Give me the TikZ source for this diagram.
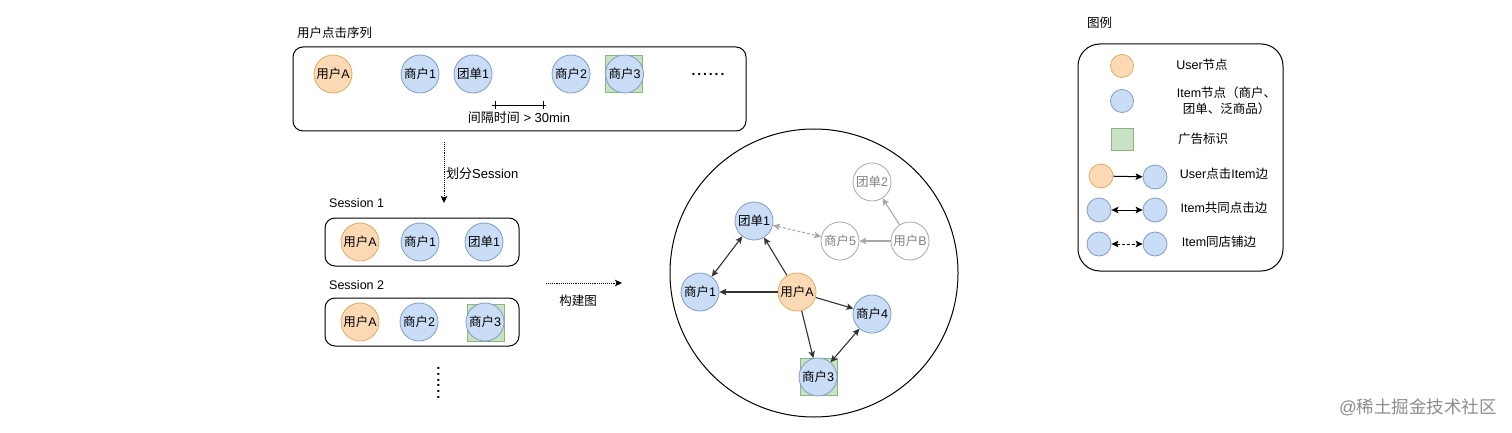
\documentclass[tikz,border=0pt]{standalone}
\usepackage{fontspec}
\usetikzlibrary{arrows.meta}
\setmainfont{Liberation Sans}
\newfontfamily\cjk{Noto Sans CJK SC}
\newcommand{\zh}[1]{{\cjk #1}}
\newcommand{\dotrow}{\textbf{.\kern1.9pt.\kern1.9pt.\kern1.9pt.\kern1.9pt.\kern1.9pt.}}
\definecolor{userfill}{HTML}{FAD9B4}
\definecolor{userline}{HTML}{DDAE62}
\definecolor{itemfill}{HTML}{CADDF6}
\definecolor{itemline}{HTML}{7F9CC4}
\definecolor{adfill}{HTML}{C9E1C5}
\definecolor{adline}{HTML}{8DB67F}
\definecolor{fadeline}{HTML}{A8A8A8}
\definecolor{fadetext}{HTML}{808080}
\tikzset{
  >={Stealth[length=7pt, width=6.5pt, inset=1.5pt]},
  txt/.style={inner sep=0pt, font=\fontsize{12.5}{15}\selectfont, align=center},
  bigtxt/.style={inner sep=0pt, font=\fontsize{13}{15}\selectfont, align=center},
  usernode/.style={circle, draw=userline, fill=userfill, thick, minimum size=38pt, inner sep=0pt, txt},
  itemnode/.style={circle, draw=itemline, fill=itemfill, thick, minimum size=38pt, inner sep=0pt, txt},
  fadenode/.style={circle, draw=fadeline, thick, minimum size=38pt, inner sep=0pt, txt, text=fadetext},
  adbox/.style={draw=adline, fill=adfill, thick, minimum size=37pt, inner sep=0pt},
  panel/.style={draw, rounded corners=10pt, line width=1pt, inner sep=0pt},
  edge/.style={line width=1.1pt, draw=black!80},
  fadeedge/.style={line width=1.1pt, draw=fadeline},
}
\begin{document}
\begin{tikzpicture}[x=1pt, y=-1pt]
\useasboundingbox (0,0) rectangle (1512,433);
%
\node [panel, minimum width=453pt, minimum height=84pt] at (519.5,89) (seqbox) {};
\node [panel, minimum width=194pt, minimum height=48pt] at (422,242) (ses1box) {};
\node [panel, minimum width=194pt, minimum height=48pt] at (422,322) (ses2box) {};
%
\node [txt, anchor=west] at (297,33) (seqtitle) {\zh{用户点击序列}};
\node [usernode] at (333,74) (sua) {\zh{用户}A};
\node [itemnode] at (420,74) (sm1) {\zh{商户}1};
\node [itemnode] at (473,74) (st1) {\zh{团单}1};
\node [itemnode] at (571,74) (sm2) {\zh{商户}2};
\node [adbox] at (624,74) (sad3) {};
\node [itemnode] at (624.5,74) (sm3) {\zh{商户}3};
\node [txt, font=\fontsize{14}{15}\selectfont] at (708,74) (sdots) {\dotrow};
\coordinate (gapa) at (495,105.5);
\coordinate (gapb) at (543,105.5);
\draw[line width=.9pt] ([xshift=-3pt]gapa)--([xshift=3pt]gapb);
\draw[line width=.9pt] (gapa)+(0,-4)--+(0,4);
\draw[line width=.9pt] (gapb)+(0,-4)--+(0,4);
\node [bigtxt] at (519,118) (gaptext) {\zh{间隔时间} > 30min};
%
\coordinate (splita) at (444,142);
\coordinate (splitb) at (444,203);
\draw[->, densely dotted, line width=.9pt] (splita)--(splitb);
\node [bigtxt, anchor=west] at (446,174) (splittext) {\zh{划分}Session};
%
\node [txt, anchor=west] at (329,203) (ses1title) {Session 1};
\node [usernode] at (360,242) (aua) {\zh{用户}A};
\node [itemnode] at (420,242) (am1) {\zh{商户}1};
\node [itemnode] at (484,242) (at1) {\zh{团单}1};
%
\node [txt, anchor=west] at (329,285) (ses2title) {Session 2};
\node [usernode] at (360,322) (bua) {\zh{用户}A};
\node [itemnode] at (419,322) (bm2) {\zh{商户}2};
\node [adbox] at (486,322.5) (bad3) {};
\node [itemnode] at (485,322) (bm3) {\zh{商户}3};
\node [txt, font=\fontsize{14}{15}\selectfont, rotate=-90] at (438.5,383) (vdots) {\dotrow};
%
\coordinate (builda) at (546,283);
\coordinate (buildb) at (622,283);
\draw[->, densely dotted, line width=.9pt] (builda)--(buildb);
\node [txt] at (578,301) (buildtext) {\zh{构建图}};
%
\node [circle, draw, line width=1pt, minimum size=288pt, inner sep=0pt] at (814,273) (bigcircle) {};
\node [itemnode] at (754,221) (t1) {\zh{团单}1};
\node [itemnode] at (700,292) (m1) {\zh{商户}1};
\node [usernode] at (797,292) (ua) {\zh{用户}A};
\node [itemnode] at (872,314) (m4) {\zh{商户}4};
\node [adbox] at (818.5,376.5) (ad3) {};
\node [itemnode] at (818,377) (m3) {\zh{商户}3};
\node [fadenode] at (872,182) (t2) {\zh{团单}2};
\node [fadenode] at (840,241) (m5) {\zh{商户}5};
\node [fadenode] at (910,241) (ub) {\zh{用户}B};
%
\draw[<-, edge] (t1)--(ua);
\draw[<-, edge] (m1)--(ua);
\draw[<-, edge] (m4)--(ua);
\draw[<-, edge] (m3)--(ua);
\draw[<->, edge] (t1)--(m1);
\draw[<->, edge] (m3)--(m4);
\draw[<-, fadeedge] (t2)--(ub);
\draw[<-, fadeedge] (m5)--(ub);
\draw[<->, fadeedge, densely dashed] (t1)--(m5);
%
\node [txt, anchor=west] at (1087,23) (legtitle) {\zh{图例}};
\node [panel, rounded corners=22pt, minimum width=205pt, minimum height=227pt] at (1180.5,157.5) (legbox) {};
\node [usernode, minimum size=23pt] at (1122,66) (luser) {};
\node [txt] at (1202,65) (lusertext) {User\zh{节点}};
\node [itemnode, minimum size=23pt] at (1122,101) (litem) {};
\node [txt] at (1226.5,101) (litemtext) {Item\zh{节点（商户、}\\[1pt]\zh{团单、泛商品）}};
\node [adbox, minimum size=22pt] at (1122.5,139) (lad) {};
\node [txt] at (1203,139) (ladtext) {\zh{广告标识}};
%
\node [usernode, minimum size=24pt] at (1101,176) (lua) {};
\node [itemnode, minimum size=24pt] at (1155,177) (lub) {};
\node [txt] at (1224,173.5) (lclick) {User\zh{点击}Item\zh{边}};
\node [itemnode, minimum size=24pt] at (1099,210) (lca) {};
\node [itemnode, minimum size=24pt] at (1155,210) (lcb) {};
\node [txt] at (1224,207.5) (lco) {Item\zh{共同点击边}};
\node [itemnode, minimum size=24pt] at (1099,244) (lsa) {};
\node [itemnode, minimum size=24pt] at (1155,244) (lsb) {};
\node [txt] at (1219,241.5) (lshop) {Item\zh{同店铺边}};
%
\draw[<-, line width=1pt] (lub)--(lua);
\draw[<->, line width=1pt] (lca)--(lcb);
\draw[<->, line width=1pt, densely dashed] (lsa)--(lsb);
%
\node [txt, anchor=east, text=black!45, font=\fontsize{17.5}{20}\selectfont] at (1497,407) (mark) {@\zh{稀土掘金技术社区}};
\end{tikzpicture}
\end{document}
